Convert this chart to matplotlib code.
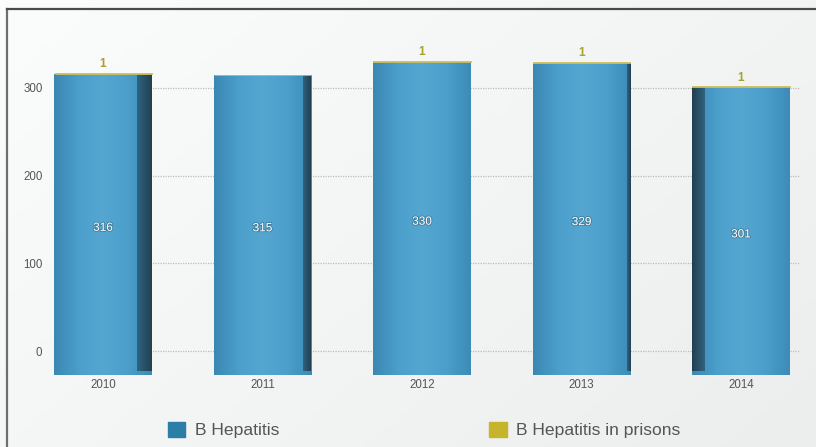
import numpy as np
import matplotlib
matplotlib.use("Agg")
import matplotlib.pyplot as plt
import matplotlib.patheffects as pe
from matplotlib.colors import LinearSegmentedColormap
from matplotlib.patches import Patch

plt.rcParams['font.family'] = ['Liberation Sans', 'DejaVu Sans']

# --- data ---
years = ['2010', '2011', '2012', '2013', '2014']
hepatitis_b = [316, 315, 330, 329, 301]
hepatitis_b_prisons = [1, 0, 1, 1, 1]
yticks = [0, 100, 200, 300]

BLUE = '#2b7ea6'
YELLOW = '#c6b42a'
BASE = -27      # visual foot of the pseudo-3d bars

W, H = 816, 447
fig = plt.figure(figsize=(W / 100, H / 100), dpi=100)

# background gradient + frame
bg = fig.add_axes([0, 0, 1, 1], zorder=-5)
gx = np.linspace(0, 1, 200)
gy = np.linspace(0, 1, 120)
GX, GY = np.meshgrid(gx, gy)
bg_cmap = LinearSegmentedColormap.from_list('bg', ['#fbfcfc', '#eceeee'])
bg.imshow(0.6 * GX + 0.4 * (1 - GY), cmap=bg_cmap, aspect='auto',
          extent=[0, 1, 0, 1], origin='lower')
bg.plot([7 / W, 7 / W], [0, 1 - 9 / H], color='#6e6e6e', lw=1.6)
bg.plot([7 / W, 1], [1 - 9 / H, 1 - 9 / H], color='#4a4a4a', lw=1.6)
bg.set_xlim(0, 1)
bg.set_ylim(0, 1)
bg.axis('off')

# main axes: pixel x 55..800, y 20..376
ax = fig.add_axes([55 / W, 1 - 376 / H, 745 / W, 356 / H])
ax.patch.set_visible(False)
for s in ax.spines.values():
    s.set_visible(False)

for t in yticks:
    ax.axhline(t, color='#bdbdbd', lw=0.9, ls=(0, (1, 1)), zorder=0)

x = np.arange(len(years))
width = 0.61
face_cmap = LinearSegmentedColormap.from_list(
    'face', ['#3b88b3', '#4b9fcb', '#55a7d1', '#4b9fcb', '#3d8cb7'])
side_cmap = LinearSegmentedColormap.from_list('side', ['#2f6380', '#233f50'])

bars = ax.bar(x, np.array(hepatitis_b) - BASE, bottom=BASE, width=width,
              color='#4b9fcb', zorder=2)
grad = np.linspace(0, 1, 100).reshape(1, -1)
side_w = [0.09, 0.05, 0.0, 0.02, -0.08]   # perspective side face width
for i, b in enumerate(bars):
    x0, y0 = b.get_x(), b.get_y()
    im = ax.imshow(grad, cmap=face_cmap, aspect='auto', zorder=2.1,
                   extent=[x0, x0 + b.get_width(), y0, y0 + b.get_height()])
    im.set_clip_path(b)
    side = side_w[i]
    if side != 0:
        sx = x0 + b.get_width() - side if side > 0 else x0
        sb = ax.bar(sx, b.get_height() - 4, bottom=y0 + 4, width=abs(side),
                    align='edge', color='#2a5569', zorder=2.2)[0]
        g = grad if side > 0 else grad[:, ::-1]
        sim = ax.imshow(g, cmap=side_cmap, aspect='auto', zorder=2.3,
                        extent=[sx, sx + abs(side), sb.get_y(),
                                sb.get_y() + sb.get_height()])
        sim.set_clip_path(sb)

ax.set_xlim(-0.301, 4.370)
ax.set_ylim(-28.5, 377.5)

prison = ax.bar(x, hepatitis_b_prisons, bottom=hepatitis_b, width=width,
                color=YELLOW, edgecolor='#cfc060', lw=0.6, zorder=3)

for xi, v, p in zip(x, hepatitis_b, hepatitis_b_prisons):
    ax.text(xi, (v + BASE) / 2 - 4, str(v), ha='center', va='center',
            fontsize=8.5, color='white', zorder=5,
            path_effects=[pe.withStroke(linewidth=1.2, foreground='#2c5d75',
                                        alpha=0.6)])
    if p:
        ax.text(xi, v + p + 3, str(p), ha='center', va='bottom', fontsize=8.5,
                color='#a9a12c', fontweight='bold', zorder=5)

ax.set_yticks(yticks)
ax.set_xticks(x)
ax.set_xticklabels(years)
ax.tick_params(axis='both', length=0, labelsize=8.3, colors='#555555')
ax.tick_params(axis='y', pad=9)
ax.tick_params(axis='x', pad=2)

handles = [Patch(color=BLUE), Patch(color=YELLOW)]
fig.legend(handles=handles, labels=['B Hepatitis', 'B Hepatitis in prisons'],
           loc='center left', bbox_to_anchor=(152 / W, 1 - 430 / H), ncol=2,
           frameon=False, fontsize=12.6, labelcolor='#555555',
           handlelength=1.0, handleheight=1.0, handletextpad=0.55,
           columnspacing=12.0)

fig.savefig('out.png', dpi=100)
